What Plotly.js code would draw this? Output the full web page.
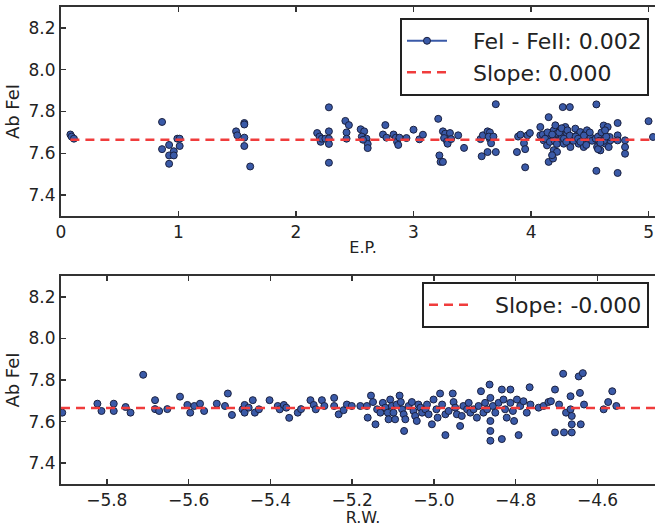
<!DOCTYPE html>
<html>
<head>
<meta charset="utf-8">
<script src="https://cdn.plot.ly/plotly-3.0.1.min.js"></script>
<style>
html,body{margin:0;padding:0;background:#fff;overflow:hidden;}
#frame{width:655px;height:527px;overflow:hidden;position:relative;}
#chart{width:665px;height:527px;}
</style>
</head>
<body>
<div id="frame"><div id="chart"></div></div>
<script>
// ---- data: excitation potential (E.P.) vs abundance of FeI ----
const epX = [0.08,0.09,0.11,
 0.86,0.86,0.92,0.92,0.92,0.96,0.96,0.99,1.01,1.01,
 1.49,1.50,1.56,1.56,1.56,1.56,1.61,
 2.18,2.20,2.21,2.22,2.25,2.28,2.28,2.28,2.28,2.28,
 2.42,2.45,2.43,2.43,
 2.55,2.58,2.56,2.60,2.61,2.61,2.57,
 2.74,2.76,2.77,
 2.83,2.85,2.86,2.88,2.87,
 2.94,3.00,3.05,3.08,
 3.21,3.22,3.23,3.25,3.25,3.27,3.31,3.26,3.285,3.29,3.32,
 3.38,3.43,
 3.57,3.58,3.59,3.63,3.65,3.65,3.66,3.63,3.70,3.64,3.68,3.70,
 3.88,3.89,3.91,3.94,3.95,3.95,3.97,3.99,
 4.079,4.079,4.15,4.108,4.136,4.165,4.193,4.207,4.221,4.235,4.25,4.264,4.278,4.292,4.306,4.32,4.335,4.349,4.377,4.391,4.405,4.419,4.434,4.448,4.462,4.476,4.49,4.505,
 4.15,4.187,4.193,4.221,4.179,4.27,4.33,4.556,4.556,4.737,4.737,
 4.618,4.652,4.613,4.604,4.576,4.562,4.59,4.633,4.675,4.661,4.669,
 4.737,4.737,4.80,4.80,4.80,5.0,5.038,
 4.10,4.12,4.14,4.16,4.18,4.20,4.22,4.24,4.26,4.28,4.30,4.31,4.33,4.36,4.38,4.40,4.42,4.45,4.47,4.50,4.52,4.55,4.57,4.58,4.60,4.62,4.64,4.57,4.59,4.63];
const epAb = [7.69,7.68,7.67,
 7.75,7.62,7.64,7.59,7.55,7.61,7.59,7.67,7.67,7.635,
 7.705,7.686,7.745,7.738,7.675,7.635,7.537,
 7.697,7.68,7.655,7.67,7.67,7.705,7.67,7.645,7.82,7.555,
 7.755,7.735,7.70,7.67,
 7.715,7.705,7.68,7.67,7.645,7.625,7.665,
 7.69,7.735,7.675,
 7.69,7.675,7.655,7.675,7.64,
 7.673,7.713,7.667,7.689,
 7.765,7.59,7.559,7.559,7.705,7.694,7.697,7.673,7.657,7.646,7.668,
 7.686,7.626,
 7.668,7.586,7.686,7.705,7.70,7.668,7.648,7.606,7.606,7.68,7.68,7.835,
 7.606,7.68,7.689,7.648,7.62,7.533,7.686,7.697,
 7.726,7.686,7.773,7.662,7.638,7.678,7.71,7.734,7.694,7.662,7.71,7.678,7.646,7.726,7.694,7.662,7.63,7.678,7.718,7.686,7.646,7.702,7.67,7.63,7.694,7.71,7.662,7.678,
 7.559,7.575,7.615,7.607,7.591,7.821,7.821,7.834,7.516,7.745,7.506,
 7.733,7.726,7.694,7.67,7.646,7.63,7.614,7.646,7.662,7.63,7.678,
 7.686,7.662,7.662,7.63,7.598,7.754,7.678,
 7.69,7.67,7.70,7.655,7.69,7.66,7.645,7.70,7.72,7.67,7.655,7.71,7.685,7.66,7.68,7.67,7.655,7.685,7.64,7.70,7.66,7.67,7.68,7.66,7.70,7.66,7.68,7.62,7.65,7.71];

// ---- data: reduced width (R.W.) vs abundance of FeI ----
const rwX = [-5.909,-5.823,-5.813,-5.783,-5.783,-5.754,-5.742,-5.711,-5.682,-5.682,-5.672,-5.652,
 -5.621,-5.603,-5.596,-5.586,-5.572,-5.562,-5.531,-5.511,-5.504,-5.494,-5.468,-5.463,-5.463,-5.453,-5.443,-5.438,-5.428,
 -5.402,-5.382,-5.377,-5.367,-5.361,-5.354,-5.333,-5.325,-5.302,-5.294,-5.289,-5.274,-5.268,
 -5.244,-5.244,-5.233,-5.221,-5.213,-5.201,-5.180,-5.164,-5.154,-5.149,-5.162,-5.143,-5.139,-5.131,-5.125,-5.119,-5.113,-5.111,
 -5.107,-5.103,-5.099,-5.095,-5.091,-5.084,-5.081,-5.078,-5.074,-5.073,-5.070,-5.062,-5.054,-5.050,-5.046,-5.042,-5.038,-5.033,
 -5.029,-5.021,-5.017,-5.013,-5.005,-5.001,-4.994,-4.991,-4.985,-4.980,-4.972,-4.972,-4.964,-4.954,-4.952,-4.948,-4.944,-4.936,
 -4.932,-4.928,-4.919,-4.915,-4.911,-4.903,-4.895,-4.891,-4.885,-4.879,-4.875,-4.870,-4.864,-4.862,-4.862,-4.862,-4.862,-4.856,
 -4.850,-4.842,-4.834,-4.834,-4.830,-4.826,-4.822,-4.813,-4.813,-4.807,-4.804,-4.797,-4.793,-4.789,-4.781,-4.773,-4.766,-4.764,
 -4.744,-4.732,-4.720,
 -4.714,-4.704,-4.704,-4.694,-4.684,-4.682,-4.677,-4.666,-4.666,-4.663,-4.663,-4.663,-4.646,-4.643,-4.641,-4.636,-4.633,
 -4.585,-4.574,-4.564,-4.554];
const rwAb = [7.643,7.686,7.651,7.686,7.651,7.670,7.643,7.825,7.703,7.660,7.651,7.660,
 7.720,7.680,7.643,7.675,7.686,7.651,7.686,7.675,7.735,7.632,7.659,7.680,7.643,7.667,7.703,7.643,7.659,
 7.703,7.675,7.659,7.680,7.667,7.618,7.643,7.660,7.703,7.680,7.659,7.703,7.675,
 7.714,7.675,7.635,7.655,7.682,7.675,7.675,7.675,7.725,7.694,7.619,7.587,7.659,7.643,7.690,7.667,7.643,7.611,
 7.706,7.675,7.643,7.611,7.682,7.725,7.694,7.659,7.635,7.555,7.611,7.675,7.694,7.651,7.627,7.603,7.682,7.667,
 7.643,7.659,7.682,7.635,7.587,7.706,7.659,7.619,7.735,7.682,7.535,7.635,7.651,7.735,7.694,7.667,7.635,7.579,
 7.627,7.675,7.659,7.690,7.643,7.659,7.619,7.675,7.746,7.643,7.690,7.659,7.778,7.714,7.603,7.555,7.508,7.675,
 7.643,7.690,7.754,7.516,7.706,7.659,7.619,7.754,7.690,7.651,7.603,7.706,7.535,7.675,7.698,7.643,7.765,7.682,
 7.667,7.675,7.694,
 7.698,7.754,7.548,7.682,7.830,7.548,7.643,7.722,7.659,7.627,7.587,7.548,7.817,7.738,7.587,7.833,7.682,
 7.659,7.694,7.746,7.675];

// ---- fitted lines (mean abundance, zero slope) ----
const fitEPx = [0.08, 5.14];
const fitRWx = [-5.912, -4.43];
const fitAb = [7.665, 7.665];

const legendLabels = ['FeI - FeII: 0.002', 'Slope: 0.000', 'Slope: -0.000'];

const font = 'DejaVu Sans, Verdana, sans-serif';
const markerStyle = {size: 7, color: '#3a5aa8', line: {width: 1, color: '#1b2140'}};
const fitStyle = {color: '#f03c3c', width: 2.5, dash: '9px,6px'};
const pad = '\u00a0\u00a0\u00a0';

const traces = [
  {x: epX, y: epAb, type: 'scatter', mode: 'markers', marker: markerStyle,
   xaxis: 'x', yaxis: 'y', showlegend: false, hoverinfo: 'skip'},
  {x: [null], y: [null], type: 'scatter', mode: 'lines+markers', name: pad + legendLabels[0],
   marker: markerStyle, line: {color: '#3a5aa8', width: 2}, xaxis: 'x', yaxis: 'y', legend: 'legend'},
  {x: fitEPx, y: fitAb, type: 'scatter', mode: 'lines', name: pad + legendLabels[1],
   line: fitStyle, xaxis: 'x', yaxis: 'y', legend: 'legend'},
  {x: rwX, y: rwAb, type: 'scatter', mode: 'markers', marker: markerStyle,
   xaxis: 'x2', yaxis: 'y2', showlegend: false, hoverinfo: 'skip'},
  {x: fitRWx, y: fitAb, type: 'scatter', mode: 'lines', name: pad + legendLabels[2],
   line: fitStyle, xaxis: 'x2', yaxis: 'y2', legend: 'legend2'}
];

const axisCommon = {
  showline: true, linecolor: '#333', linewidth: 2,
  ticks: 'inside', ticklen: 5, tickwidth: 1.5, tickcolor: '#333',
  showgrid: false, zeroline: false,
  tickfont: {family: font, size: 17, color: '#222'}
};

const legendCommon = {
  font: {family: font, size: 22, color: '#222'},
  bgcolor: '#fff', bordercolor: '#222', borderwidth: 2,
  xanchor: 'right', yanchor: 'top', itemwidth: 40
};

// plot area spans 61..665 px; the page window (655 px) crops its right edge as in the original figure
const layout = {
  width: 665, height: 527,
  margin: {l: 61, r: 0, t: 7, b: 43},
  paper_bgcolor: '#fff', plot_bgcolor: '#fff',
  xaxis: Object.assign({}, axisCommon, {
    domain: [0, 1], anchor: 'y', range: [0, 5.14], dtick: 1, tick0: 0, mirror: 'allticks',
    title: {text: 'E.P.', font: {family: font, size: 16, color: '#222'}, standoff: 0}
  }),
  yaxis: Object.assign({}, axisCommon, {
    domain: [0.5618, 1], anchor: 'x', range: [7.3, 8.3], dtick: 0.2, tick0: 7.4, tickformat: '.1f', mirror: 'ticks',
    title: {text: 'Ab FeI', font: {family: font, size: 18, color: '#222'}, standoff: 4}
  }),
  xaxis2: Object.assign({}, axisCommon, {
    domain: [0, 1], anchor: 'y2', range: [-5.912, -4.435], dtick: 0.2, tick0: -5.8, tickformat: '.1f', mirror: 'allticks',
    title: {text: 'R.W.', font: {family: font, size: 16, color: '#222'}, standoff: 5}
  }),
  yaxis2: Object.assign({}, axisCommon, {
    domain: [0, 0.4361], anchor: 'x2', range: [7.3, 8.3], dtick: 0.2, tick0: 7.4, tickformat: '.1f', mirror: 'ticks',
    title: {text: 'Ab FeI', font: {family: font, size: 18, color: '#222'}, standoff: 4}
  }),
  legend: Object.assign({}, legendCommon, {x: 0.9735, y: 0.977}),
  legend2: Object.assign({}, legendCommon, {x: 0.9735, y: 0.4235}),
  showlegend: true
};

Plotly.newPlot('chart', traces, layout, {displayModeBar: false, staticPlot: true});
</script>
</body>
</html>
